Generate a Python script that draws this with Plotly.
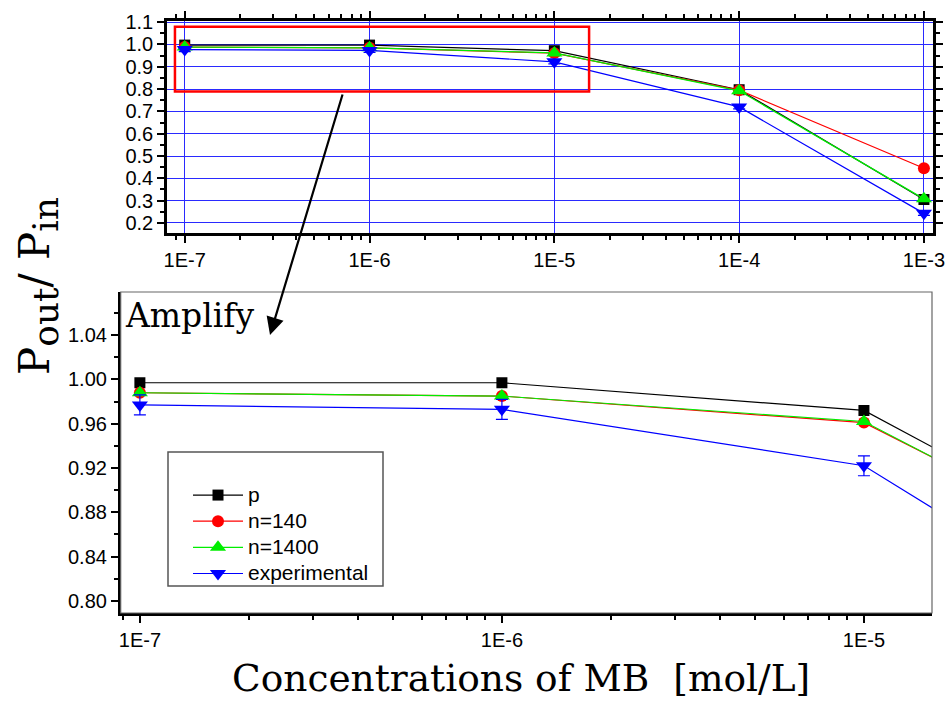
import plotly.graph_objects as go

# ---------------- data ----------------
conc = [1e-7, 1e-6, 1e-5, 1e-4, 1e-3]
x_tick_labels = ["1E-7", "1E-6", "1E-5", "1E-4", "1E-3"]

p_vals = [0.997, 0.997, 0.972, 0.797, 0.305]
n140_vals = [0.988, 0.985, 0.961, 0.795, 0.445]
n1400_vals = [0.988, 0.985, 0.962, 0.792, 0.308]
exp_vals = [0.977, 0.973, 0.922, 0.720, 0.243]
exp_err = [0.009, 0.009, 0.009, 0.009, 0.009]

series_names = ["p", "n=140", "n=1400", "experimental"]

# zoom window shown in the lower ("Amplify") panel
ZOOM_LOGX = [-7.053, -4.812]
ZOOM_Y = [0.789, 1.079]

TOP_LOGX = [-7.096, -2.951]
TOP_Y = [0.155, 1.105]

W, H = 946, 702

def px_x(v):
    return v / W

def px_y(v):
    return 1 - v / H

styles = [
    dict(color="black", symbol="square", size=11),
    dict(color="red", symbol="circle", size=12),
    dict(color="#00ee00", symbol="triangle-up", size=14),
    dict(color="blue", symbol="triangle-down", size=14),
]
values = [p_vals, n140_vals, n1400_vals, exp_vals]

fig = go.Figure()

for axes, show in (("1", False), ("2", True)):
    xa = "x" if axes == "1" else "x2"
    ya = "y" if axes == "1" else "y2"
    for i, (name, vals, st) in enumerate(zip(series_names, values, styles)):
        err = None
        if name == "experimental":
            err = dict(type="data", array=exp_err, visible=True, color="blue",
                       thickness=1.2, width=6)
        fig.add_trace(go.Scatter(
            x=conc, y=vals, name="<span style='font-size:21px'>%s</span>" % name,
            mode="lines+markers",
            line=dict(color=st["color"], width=1.2),
            marker=dict(color=st["color"], symbol=st["symbol"], size=st["size"],
                        line=dict(width=0)),
            error_y=err, xaxis=xa, yaxis=ya, showlegend=show,
            legendgroup=name,
        ))

tickfont = dict(family="Liberation Sans, Arial, sans-serif", size=20, color="black")
minor_common = dict(ticks="outside", ticklen=4, tickwidth=1.5, tickcolor="black", showgrid=False)

fig.update_layout(
    width=W, height=H,
    margin=dict(l=0, r=0, t=0, b=0, autoexpand=False),
    paper_bgcolor="white", plot_bgcolor="rgba(0,0,0,0)",
    showlegend=True,
    xaxis=dict(
        domain=[px_x(167), px_x(933)], anchor="y", type="log", range=TOP_LOGX,
        automargin=False,
        tickmode="array", tickvals=conc, ticktext=x_tick_labels,
        ticks="outside", ticklen=7, tickwidth=2, tickcolor="black",
        showline=True, linewidth=2.5, linecolor="black", mirror="ticks",
        showgrid=True, gridcolor="#2a2aff", gridwidth=1, zeroline=False,
        tickfont=tickfont, minor=dict(dtick="D1", **minor_common),
    ),
    yaxis=dict(
        domain=[px_y(233), px_y(21)], anchor="x", range=TOP_Y,
        automargin=False,
        tick0=0.2, dtick=0.1, tickformat=".1f",
        ticks="outside", ticklen=7, tickwidth=2, tickcolor="black",
        showline=True, linewidth=2.5, linecolor="black", mirror="ticks",
        showgrid=True, gridcolor="#2a2aff", gridwidth=1, zeroline=False,
        tickfont=tickfont, minor=dict(dtick=0.05, **minor_common),
    ),
    xaxis2=dict(
        domain=[px_x(120.7), px_x(932)], anchor="y2", type="log", range=ZOOM_LOGX,
        automargin=False,
        tickmode="array", tickvals=conc[:3], ticktext=x_tick_labels[:3],
        ticks="outside", ticklen=7, tickwidth=2, tickcolor="black",
        showline=True, linewidth=2.5, linecolor="black", mirror=False,
        showgrid=False, zeroline=False,
        tickfont=tickfont, minor=dict(dtick="D1", **minor_common),
    ),
    yaxis2=dict(
        domain=[px_y(613), px_y(292)], anchor="x2", range=ZOOM_Y,
        automargin=False,
        tick0=0.8, dtick=0.04, tickformat=".2f",
        ticks="outside", ticklen=7, tickwidth=2, tickcolor="black",
        showline=True, linewidth=2.5, linecolor="black", mirror=False,
        showgrid=False, zeroline=False,
        tickfont=tickfont, minor=dict(dtick=0.02, **minor_common),
    ),
    legend=dict(
        x=px_x(188), y=px_y(477), xanchor="left", yanchor="top",
        bgcolor="rgba(0,0,0,0)", borderwidth=0,
        font=dict(family="Liberation Sans, Arial, sans-serif", size=17.8, color="black"),
        itemwidth=50, tracegroupgap=0,
    ),
)

shapes = [
    # thin frame of the lower panel (top/right edges)
    dict(type="rect", xref="x2 domain", yref="y2 domain", x0=0, x1=1, y0=0, y1=1,
         line=dict(color="#666666", width=1.2), layer="above"),
    # legend box
    dict(type="rect", xref="paper", yref="paper",
         x0=px_x(168), x1=px_x(383), y0=px_y(586), y1=px_y(452),
         line=dict(color="#555555", width=1.5), fillcolor="white", layer="below"),
    # red rectangle marking the zoomed region on the upper panel
    dict(type="rect", xref="x", yref="y",
         x0=10 ** ZOOM_LOGX[0], x1=10 ** ZOOM_LOGX[1], y0=ZOOM_Y[0], y1=ZOOM_Y[1],
         line=dict(color="red", width=2.5), layer="above"),
]
fig.update_layout(shapes=shapes)

serif = "DejaVu Serif, Liberation Serif, serif"
annotations = [
    dict(text="Amplify", xref="paper", yref="paper", x=px_x(123), y=px_y(294),
         xanchor="left", yanchor="top", showarrow=False,
         font=dict(family=serif, size=33, color="black")),
    dict(text="Concentrations of MB&nbsp;&nbsp;[mol/L]", xref="paper", yref="paper",
         x=px_x(521), y=px_y(678), xanchor="center", yanchor="middle", showarrow=False,
         font=dict(family=serif, size=37.5, color="black")),
    dict(text="P<sub><span style='font-size:36px'>out</span></sub>/ P<sub><span style='font-size:36px'>in</span></sub>",
         xref="paper", yref="paper", x=px_x(38), y=px_y(286), textangle=-90,
         xanchor="center", yanchor="middle", showarrow=False,
         font=dict(family=serif, size=42, color="black")),
    # arrow from the red box to the amplified panel
    dict(text="", xref="paper", yref="paper", x=px_x(270), y=px_y(335),
         ax=343 - 270, ay=93 - 335, showarrow=True,
         arrowhead=2, arrowsize=1.6, arrowwidth=2.2, arrowcolor="black"),
]
fig.update_layout(annotations=annotations)

fig.write_html(
    "out.html",
    config={"displayModeBar": False},
    post_script="document.body.style.margin='0';document.body.style.padding='0';"
                "document.documentElement.style.overflow='hidden';",
)
